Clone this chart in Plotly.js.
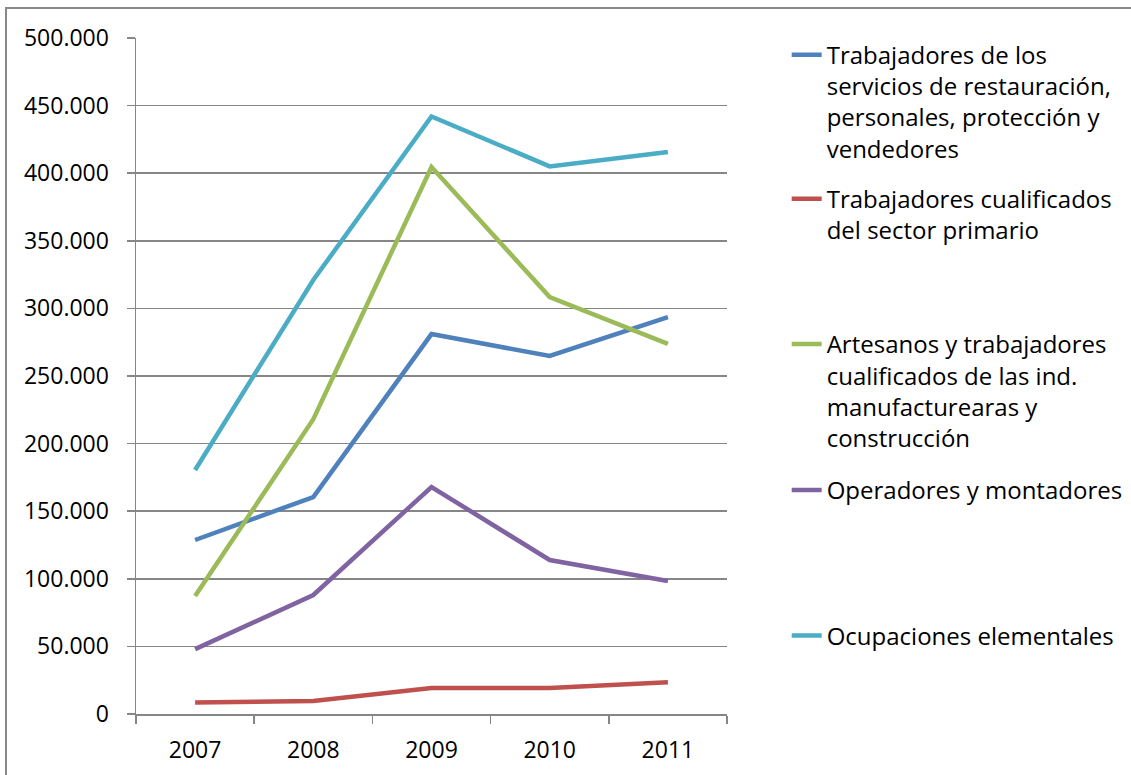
<!DOCTYPE html>
<html>
<head>
<meta charset="utf-8">
<script src="https://cdn.plot.ly/plotly-3.0.1.min.js"></script>
<style>html,body{margin:0;padding:0;background:#fff;}#chart{width:1131px;height:775px;}</style>
</head>
<body>
<div id="chart"></div>
<script>
const years = ['2007', '2008', '2009', '2010', '2011'];
const seriesNames = [
  'Trabajadores de los<br>servicios de restauración,<br>personales, protección y<br>vendedores',
  'Trabajadores cualificados<br>del sector primario',
  'Artesanos y trabajadores<br>cualificados de las ind.<br>manufacturearas y<br>construcción',
  'Operadores y montadores',
  'Ocupaciones elementales'
];
const servicios = [128700, 160500, 281000, 264800, 293600];
const primario = [8500, 9600, 19200, 19200, 23500];
const artesanos = [87300, 218000, 404600, 308400, 273700];
const operadores = [48000, 88000, 167900, 113900, 98400];
const elementales = [180500, 321000, 442000, 405000, 415700];
const colors = ['#4F81BD', '#C0504D', '#9BBB59', '#8064A2', '#4BACC6'];
const legendYs = [1.008, 0.795, 0.580, 0.364, 0.149];

const values = [servicios, primario, artesanos, operadores, elementales];
const legendIds = ['legend', 'legend2', 'legend3', 'legend4', 'legend5'];
const traces = values.map((v, i) => ({
  type: 'scatter', mode: 'lines', x: years, y: v, name: seriesNames[i],
  line: {color: colors[i], width: 4.5}, legend: legendIds[i], showlegend: true
}));

const font = {family: 'Open Sans, sans-serif', size: 23, color: '#000'};
const layout = {
  width: 1131, height: 775,
  margin: {l: 136, r: 404, t: 38, b: 61, autoexpand: false},
  paper_bgcolor: '#fff', plot_bgcolor: '#fff',
  font: font,
  separators: ',.',
  showlegend: true,
  xaxis: {
    type: 'category', range: [-0.5, 4.5], tickson: 'boundaries',
    ticks: 'outside', ticklen: 8, tickwidth: 1.5, tickcolor: '#868686',
    showline: true, linecolor: '#868686', linewidth: 1.5,
    showgrid: false, zeroline: false, fixedrange: true,
    ticklabelstandoff: 15, tickfont: font
  },
  yaxis: {
    range: [0, 500000], dtick: 50000, tick0: 0, tickformat: ',d',
    ticks: 'outside', ticklen: 8, tickwidth: 1.5, tickcolor: '#868686',
    showline: true, linecolor: '#868686', linewidth: 1.5,
    showgrid: true, gridcolor: '#868686', gridwidth: 1.5,
    zeroline: false, fixedrange: true,
    ticklabelstandoff: 13, tickfont: font
  },
  shapes: [{
    type: 'rect', xref: 'paper', yref: 'paper',
    x0: (6 - 136) / 591, x1: (1145 - 136) / 591,
    y0: (714 - 790) / 676, y1: (714 - 8) / 676,
    line: {color: '#898989', width: 2}, fillcolor: 'rgba(0,0,0,0)', layer: 'below'
  }]
};
legendIds.forEach((id, i) => {
  layout[id] = {
    x: 1.101, xanchor: 'left', y: legendYs[i], yanchor: 'top',
    bgcolor: 'rgba(0,0,0,0)', borderwidth: 0, valign: 'top',
    font: {family: 'Open Sans, sans-serif', size: 24, color: '#000'}
  };
});

Plotly.newPlot('chart', traces, layout, {displayModeBar: false, staticPlot: true});
</script>
</body>
</html>
